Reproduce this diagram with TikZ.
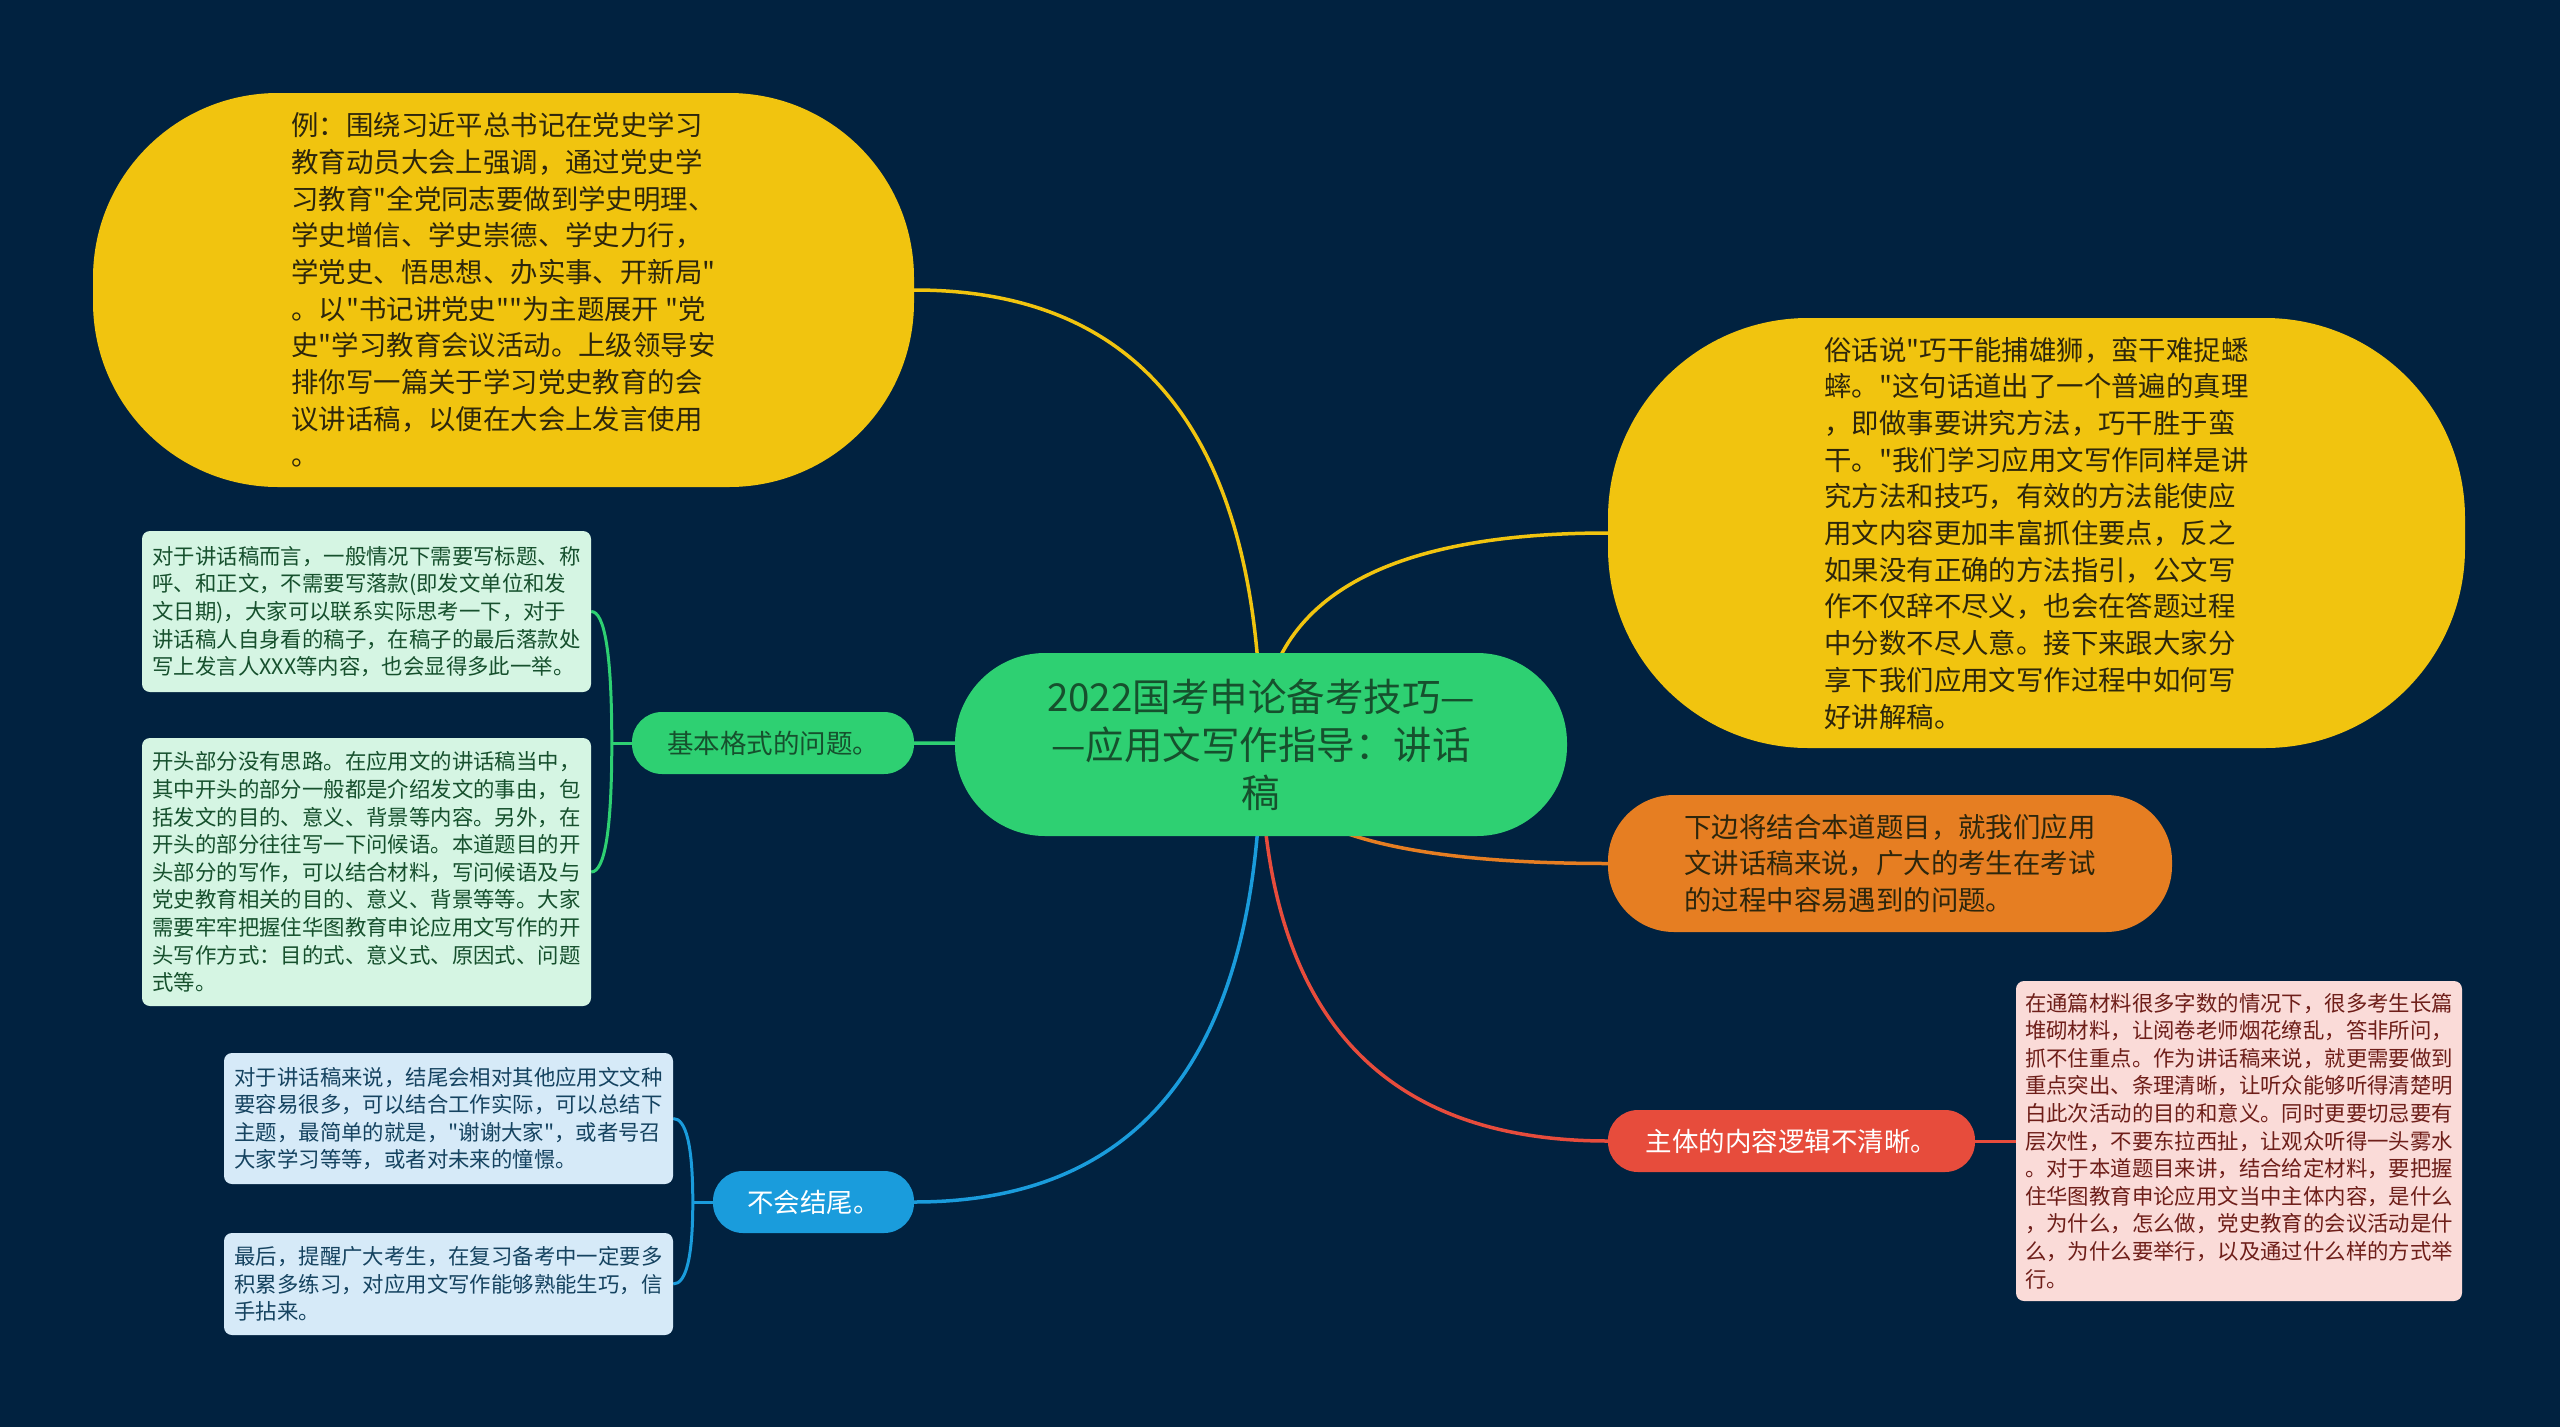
\documentclass[tikz,border=0pt]{standalone}
\usepackage{fontspec}
\setmainfont{Noto Sans CJK SC}[Ligatures=TeXOff]
\usepackage{tikz}
\usetikzlibrary{calc}
\definecolor{bgnavy}{RGB}{1,34,64}
\definecolor{rootgreen}{RGB}{46,208,114}
\definecolor{yel}{RGB}{241,196,15}
\definecolor{org}{RGB}{230,126,34}
\definecolor{rd}{RGB}{231,76,60}
\definecolor{blu}{RGB}{26,156,220}
\definecolor{mintbox}{RGB}{213,245,227}
\definecolor{skybox}{RGB}{214,234,248}
\definecolor{pinkbox}{RGB}{250,219,216}
\definecolor{darkink}{RGB}{45,38,12}
\definecolor{greenink}{RGB}{22,80,45}
\definecolor{blueink}{RGB}{21,67,96}
\definecolor{redink}{RGB}{110,30,25}

\pgfdeclarelayer{back}
\pgfdeclarelayer{links}
\pgfsetlayers{back,links,main}

\tikzset{
  topic/.style={fill=rootgreen,text=greenink,align=center,inner sep=0pt,
    font=\fontsize{38.5}{48}\selectfont,rounded corners=90pt},
  bubble/.style={align=left,inner sep=0pt,font=\fontsize{27.4}{36.7}\selectfont},
  pill/.style={align=left,inner sep=0pt,minimum height=62pt,rounded corners=30pt,
    font=\fontsize{26.5}{32}\selectfont},
  note/.style={align=left,inner sep=0pt,rounded corners=8pt,
    font=\fontsize{21.4}{27.6}\selectfont},
  branch/.style={line width=3.5pt},
  twig/.style={line width=3pt}
}

\begin{document}
\begin{tikzpicture}[x=1pt,y=-1pt]
        \useasboundingbox (0,0) rectangle (2560,1427);
        \begin{pgfonlayer}{back}
          \fill[bgnavy] (0,0) rectangle (2560,1427);
        \end{pgfonlayer}

        % centre
        \node[topic,minimum width=612pt,minimum height=183pt] (root) at (1261,744.5)
          {2022国考申论备考技巧—\\—应用文写作指导：讲话\\稿};

        % right side
        \node[bubble,fill=yel,text=darkink,minimum width=857pt,minimum height=430pt,rounded corners=200pt] (ex2) at (2036.5,533)
          {俗话说"巧干能捕雄狮，蛮干难捉蟋\\蟀。"这句话道出了一个普遍的真理\\，即做事要讲究方法，巧干胜于蛮\\干。"我们学习应用文写作同样是讲\\究方法和技巧，有效的方法能使应\\用文内容更加丰富抓住要点，反之\\如果没有正确的方法指引，公文写\\作不仅辞不尽义，也会在答题过程\\中分数不尽人意。接下来跟大家分\\享下我们应用文写作过程中如何写\\好讲解稿。};
        \node[bubble,fill=org,text=darkink,minimum width=564pt,minimum height=137pt,rounded corners=66pt] (intro) at (1890,863.5)
          {下边将结合本道题目，就我们应用\\文讲话稿来说，广大的考生在考试\\的过程中容易遇到的问题。};
        \node[pill,fill=rd,text=white,minimum width=367pt] (logic) at (1791.5,1141) {主体的内容逻辑不清晰。};
        \node[note,fill=pinkbox,text=redink,minimum width=446pt,minimum height=320pt] (logicnote) at (2239,1141)
          {在通篇材料很多字数的情况下，很多考生长篇\\堆砌材料，让阅卷老师烟花缭乱，答非所问，\\抓不住重点。作为讲话稿来说，就更需要做到\\重点突出、条理清晰，让听众能够听得清楚明\\白此次活动的目的和意义。同时更要切忌要有\\层次性，不要东拉西扯，让观众听得一头雾水\\。对于本道题目来讲，结合给定材料，要把握\\住华图教育申论应用文当中主体内容，是什么\\，为什么，怎么做，党史教育的会议活动是什\\么，为什么要举行，以及通过什么样的方式举\\行。};

        % left side
        \node[bubble,fill=yel,text=darkink,minimum width=821pt,minimum height=394pt,rounded corners=185pt] (ex1) at (503.5,290)
          {例：围绕习近平总书记在党史学习\\教育动员大会上强调，通过党史学\\习教育"全党同志要做到学史明理、\\学史增信、学史崇德、学史力行，\\学党史、悟思想、办实事、开新局"\\。以"书记讲党史""为主题展开 "党\\史"学习教育会议活动。上级领导安\\排你写一篇关于学习党史教育的会\\议讲话稿，以便在大会上发言使用\\。};
        \node[pill,fill=rootgreen,text=greenink,minimum width=282pt] (format) at (773,743) {基本格式的问题。};
        \node[note,fill=mintbox,text=greenink,minimum width=449pt,minimum height=161pt] (fmt1) at (366.5,611.5)
          {对于讲话稿而言，一般情况下需要写标题、称\\呼、和正文，不需要写落款(即发文单位和发\\文日期)，大家可以联系实际思考一下，对于\\讲话稿人自身看的稿子，在稿子的最后落款处\\写上发言人XXX等内容，也会显得多此一举。};
        \node[note,fill=mintbox,text=greenink,minimum width=449pt,minimum height=268pt] (fmt2) at (366.5,872)
          {开头部分没有思路。在应用文的讲话稿当中，\\其中开头的部分一般都是介绍发文的事由，包\\括发文的目的、意义、背景等内容。另外，在\\开头的部分往往写一下问候语。本道题目的开\\头部分的写作，可以结合材料，写问候语及与\\党史教育相关的目的、意义、背景等等。大家\\需要牢牢把握住华图教育申论应用文写作的开\\头写作方式：目的式、意义式、原因式、问题\\式等。};
        \node[pill,fill=blu,text=white,minimum width=201pt] (ending) at (813.5,1202) {不会结尾。};
        \node[note,fill=skybox,text=blueink,minimum width=449pt,minimum height=131pt] (end1) at (448.5,1118.5)
          {对于讲话稿来说，结尾会相对其他应用文文种\\要容易很多，可以结合工作实际，可以总结下\\主题，最简单的就是，"谢谢大家"，或者号召\\大家学习等等，或者对未来的憧憬。};
        \node[note,fill=skybox,text=blueink,minimum width=449pt,minimum height=102pt] (end2) at (448.5,1284)
          {最后，提醒广大考生，在复习备考中一定要多\\积累多练习，对应用文写作能够熟能生巧，信\\手拈来。};

        \coordinate (fj) at ($(format.west)+(-20,0)$);
        \coordinate (ej) at ($(ending.west)+(-20,0)$);

        \begin{pgfonlayer}{links}
          % branches out of the centre
          \foreach \kid/\col in {ex1.east/yel,ex2.west/yel,intro.west/org,logic.west/rd,format.east/rootgreen,ending.east/blu}
            \draw[branch,draw=\col] (root.center) .. controls ($(root.center)!2/3!(root.center |- \kid)$) and ($(\kid)!2/3!(root.center |- \kid)$) .. (\kid);
          % brackets
          \draw[twig,draw=rootgreen] (format.west) -- (fj);
          \foreach \kid in {fmt1.east,fmt2.east}
            \draw[twig,draw=rootgreen] (fj) .. controls ($(fj)!2/3!(fj |- \kid)$) and ($(\kid)!2/3!(fj |- \kid)$) .. (\kid);
          \draw[twig,draw=blu] (ending.west) -- (ej);
          \foreach \kid in {end1.east,end2.east}
            \draw[twig,draw=blu] (ej) .. controls ($(ej)!2/3!(ej |- \kid)$) and ($(\kid)!2/3!(ej |- \kid)$) .. (\kid);
          \draw[twig,draw=rd] (logic.east) -- (logicnote.west);
        \end{pgfonlayer}
      \end{tikzpicture}
\end{document}
